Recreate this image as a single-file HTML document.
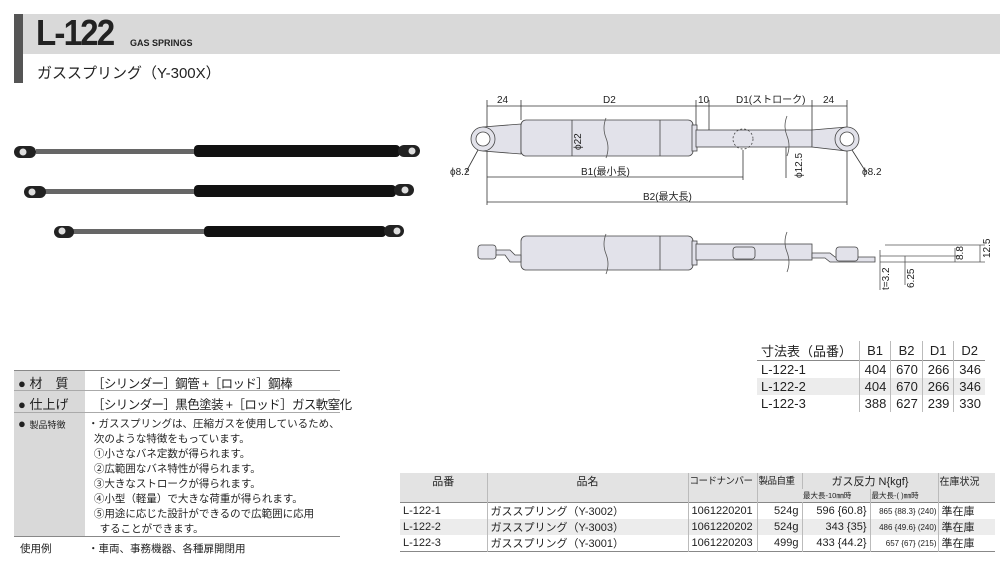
<!DOCTYPE html>
<html><head><meta charset="utf-8"><style>
body{margin:0;width:1000px;height:567px;background:#fff;position:relative;overflow:hidden;font-family:"Liberation Sans","Noto Sans CJK JP",sans-serif;color:#222}
.a{position:absolute;white-space:nowrap}
table{border-collapse:collapse;position:absolute}
.dt td{font-size:13px;padding:0 4px;height:17px;text-align:right;border-left:1px solid #bbb}
.dt td:first-child{text-align:left;border-left:none}
.bt{table-layout:fixed}
.bt td{font-size:11px;padding:0 3px;height:13px;border-left:1px solid #bbb;white-space:nowrap;overflow:hidden}
.bt td:first-child{border-left:none}
</style></head><body>
<div class="a" style="left:14px;top:14px;width:986px;height:40px;background:#d9d9d9"></div>
<div class="a" style="left:14px;top:14px;width:9px;height:69px;background:#555"></div>
<div class="a" style="left:36px;top:12px;font-size:36px;font-weight:bold;letter-spacing:-2px;transform:scaleX(0.92);transform-origin:left">L-122</div>
<div class="a" style="left:130px;top:38px;font-size:9px;font-weight:bold">GAS SPRINGS</div>
<div class="a" style="left:37px;top:62px;font-size:15px">ガススプリング（Y-300X）</div>

<svg class="a" style="left:0;top:0" width="440" height="260">
<g>
<rect x="36" y="149" width="160" height="5" fill="#666"/><rect x="194" y="145" width="206" height="12" rx="4" fill="#111"/>
<rect x="14" y="146" width="22" height="12" rx="6" fill="#222"/><circle cx="23" cy="152" r="3.5" fill="#ddd"/>
<rect x="398" y="145" width="22" height="12" rx="6" fill="#222"/><circle cx="412" cy="151" r="3.5" fill="#ddd"/>
<rect x="44" y="189" width="152" height="5" fill="#666"/><rect x="194" y="185" width="202" height="12" rx="4" fill="#111"/>
<rect x="24" y="186" width="22" height="12" rx="6" fill="#222"/><circle cx="32" cy="192" r="3.5" fill="#ddd"/>
<rect x="394" y="184" width="20" height="12" rx="6" fill="#222"/><circle cx="405" cy="190" r="3.5" fill="#ddd"/>
<rect x="72" y="229" width="134" height="5" fill="#666"/><rect x="204" y="226" width="182" height="11" rx="4" fill="#111"/>
<rect x="54" y="226" width="20" height="12" rx="6" fill="#222"/><circle cx="62" cy="231" r="3.5" fill="#ddd"/>
<rect x="384" y="225" width="20" height="12" rx="6" fill="#222"/><circle cx="397" cy="231" r="3.5" fill="#ddd"/>
</g></svg>

<svg class="a" style="left:0;top:0" width="1000" height="330" font-family="Liberation Sans, Noto Sans CJK JP, sans-serif" font-size="10" fill="#222">
<g stroke="#333" stroke-width="0.8" fill="none">
<line x1="487" y1="106" x2="847" y2="106"/>
<line x1="487" y1="100" x2="487" y2="205"/><line x1="521" y1="100" x2="521" y2="120"/>
<line x1="696" y1="100" x2="696" y2="130"/><line x1="709" y1="100" x2="709" y2="130"/>
<line x1="812" y1="100" x2="812" y2="130"/><line x1="847" y1="100" x2="847" y2="205"/>
<line x1="743" y1="150" x2="743" y2="180"/>
<line x1="487" y1="177" x2="743" y2="177"/><line x1="487" y1="202" x2="847" y2="202"/>
<line x1="478" y1="150" x2="466" y2="172"/><line x1="852" y1="150" x2="866" y2="172"/>
<line x1="786" y1="130" x2="786" y2="178"/>
</g>
<g fill="#e2e2ea" stroke="#444" stroke-width="0.8">
<path d="M483 127 L521 124 L521 154 L483 151 Z"/>
<circle cx="483" cy="139" r="12"/><circle cx="483" cy="139" r="7" fill="#fff"/>
<rect x="521" y="120" width="172" height="36" rx="5"/>
<rect x="692" y="125" width="5" height="26"/>
<rect x="696" y="130" width="116" height="17"/>
<path d="M812 130 L847 127 L847 151 L812 147 Z"/>
<circle cx="847" cy="139" r="12"/><circle cx="847" cy="139" r="7" fill="#fff"/>
<circle cx="743" cy="139" r="10" fill="none" stroke-dasharray="2 2"/>
<line x1="572" y1="120" x2="572" y2="156"/><line x1="660" y1="120" x2="660" y2="156"/>
<rect x="521" y="236" width="172" height="34" rx="5"/>
<rect x="692" y="241" width="5" height="24"/>
<rect x="696" y="244" width="116" height="16"/>
<line x1="660" y1="236" x2="660" y2="270"/>
<path d="M478 250 L510 250 L515 255 L521 255 L521 262 L510 262 L505 255 L478 255Z"/>
<rect x="478" y="245" width="18" height="14" rx="3"/>
<path d="M812 253 L830 253 L835 257 L875 257 L875 262 L830 262 L825 258 L812 258Z"/>
<rect x="836" y="247" width="22" height="14" rx="3"/>
<rect x="733" y="247" width="22" height="12" rx="3"/>
</g>
<g stroke="#555" fill="none" stroke-width="0.8">
<path d="M606 118 q-4 10 0 20 q4 10 0 20"/><path d="M787 116 q-4 10 0 20 q4 10 0 20"/>
<path d="M606 234 q-4 10 0 20 q4 10 0 20"/><path d="M787 232 q-4 10 0 20 q4 10 0 20"/>
<line x1="885" y1="245" x2="985" y2="245"/><line x1="880" y1="262" x2="985" y2="262"/>
<line x1="880" y1="256" x2="960" y2="256"/>
<line x1="980" y1="245" x2="980" y2="262"/><line x1="955" y1="248" x2="955" y2="262"/>
<line x1="905" y1="256" x2="905" y2="285"/><line x1="880" y1="250" x2="880" y2="290"/>
</g>
<text x="497" y="103">24</text><text x="603" y="103">D2</text><text x="698" y="103">10</text>
<text x="736" y="103">D1(ストローク)</text><text x="823" y="103">24</text>
<text x="581" y="175">B1(最小長)</text><text x="643" y="200">B2(最大長)</text>
<text x="450" y="175">ϕ8.2</text><text x="862" y="175">ϕ8.2</text>
<text transform="translate(581,150) rotate(-90)">ϕ22</text>
<text transform="translate(802,178) rotate(-90)">ϕ12.5</text>
<text transform="translate(990,258) rotate(-90)">12.5</text>
<text transform="translate(963,260) rotate(-90)">8.8</text>
<text transform="translate(914,288) rotate(-90)">6.25</text>
<text transform="translate(889,290) rotate(-90)">t=3.2</text>
</svg>

<div class="a" style="left:14px;top:370px;width:326px;border-top:1px solid #888"></div>
<div class="a" style="left:14px;top:371px;width:71px;height:166px;background:#d9d9d9"></div>
<div class="a" style="left:14px;top:390px;width:326px;border-top:1px solid #aaa"></div>
<div class="a" style="left:14px;top:412px;width:326px;border-top:1px solid #aaa"></div>
<div class="a" style="left:14px;top:536px;width:326px;border-top:1px solid #888"></div>
<div class="a" style="left:18px;top:373px;font-size:13px">● 材　質</div>
<div class="a" style="left:18px;top:394px;font-size:13px">● 仕上げ</div>
<div class="a" style="left:18px;top:416px;font-size:13px">● <span style="font-size:9px">製品特徴</span></div>
<div class="a" style="left:92px;top:373px;font-size:12.5px;letter-spacing:-0.6px">［シリンダー］鋼管 +［ロッド］鋼棒</div>
<div class="a" style="left:92px;top:394px;font-size:12.5px;letter-spacing:-0.6px">［シリンダー］黒色塗装 +［ロッド］ガス軟窒化</div>
<div class="a" style="left:88px;top:417px;font-size:10.5px;line-height:15px">・ガススプリングは、圧縮ガスを使用しているため、<br>&nbsp;&nbsp;次のような特徴をもっています。<br>&nbsp;&nbsp;①小さなバネ定数が得られます。<br>&nbsp;&nbsp;②広範囲なバネ特性が得られます。<br>&nbsp;&nbsp;③大きなストロークが得られます。<br>&nbsp;&nbsp;④小型（軽量）で大きな荷重が得られます。<br>&nbsp;&nbsp;⑤用途に応じた設計ができるので広範囲に応用<br>&nbsp;&nbsp;&nbsp;&nbsp;することができます。</div>
<div class="a" style="left:20px;top:541px;font-size:10.5px">使用例</div>
<div class="a" style="left:88px;top:541px;font-size:10.5px">・車両、事務機器、各種扉開閉用</div>

<table class="dt" style="left:757px;top:341px;width:228px">
<tr><td style="font-size:13px">寸法表（品番）</td><td style="text-align:center">B1</td><td style="text-align:center">B2</td><td style="text-align:center">D1</td><td style="text-align:center">D2</td></tr>
<tr style="border-top:1px solid #888"><td>L-122-1</td><td>404</td><td>670</td><td>266</td><td>346</td></tr>
<tr style="background:#ececec"><td>L-122-2</td><td>404</td><td>670</td><td>266</td><td>346</td></tr>
<tr><td>L-122-3</td><td>388</td><td>627</td><td>239</td><td>330</td></tr>
</table>

<table class="bt" style="left:400px;top:473px;width:595px">
<colgroup><col style="width:87px"><col style="width:201px"><col style="width:69px"><col style="width:45px"><col style="width:68px"><col style="width:68px"><col style="width:57px"></colgroup>
<tr style="background:#e3e3e3"><td rowspan="2" style="text-align:center;vertical-align:top;height:16px">品番</td><td rowspan="2" style="text-align:center;vertical-align:top">品名</td><td rowspan="2" style="vertical-align:top;font-size:9.5px;padding:0 1px;letter-spacing:-0.5px">コードナンバー</td><td rowspan="2" style="vertical-align:top;font-size:9.5px;padding:0 1px;letter-spacing:-0.5px">製品自重</td><td colspan="2" style="text-align:center">ガス反力 N{kgf}</td><td rowspan="2" style="vertical-align:top;font-size:10px;padding:0 1px">在庫状況</td></tr>
<tr style="background:#e3e3e3"><td style="font-size:7.5px;padding:0 1px">最大長-10㎜時</td><td style="font-size:7.5px;padding:0 1px">最大長-( )㎜時</td></tr>
<tr style="border-top:1px solid #888"><td>L-122-1</td><td>ガススプリング（Y-3002）</td><td>1061220201</td><td style="text-align:right">524g</td><td style="text-align:right">596 {60.8}</td><td style="font-size:8px;text-align:right;padding:0 1px">865 {88.3} (240)</td><td>準在庫</td></tr>
<tr style="background:#ececec"><td>L-122-2</td><td>ガススプリング（Y-3003）</td><td>1061220202</td><td style="text-align:right">524g</td><td style="text-align:right">343 {35}</td><td style="font-size:8px;text-align:right;padding:0 1px">486 {49.6} (240)</td><td>準在庫</td></tr>
<tr style="border-bottom:1px solid #888"><td>L-122-3</td><td>ガススプリング（Y-3001）</td><td>1061220203</td><td style="text-align:right">499g</td><td style="text-align:right">433 {44.2}</td><td style="font-size:8px;text-align:right;padding:0 1px">657 {67} (215)</td><td>準在庫</td></tr>
</table>
</body></html>
